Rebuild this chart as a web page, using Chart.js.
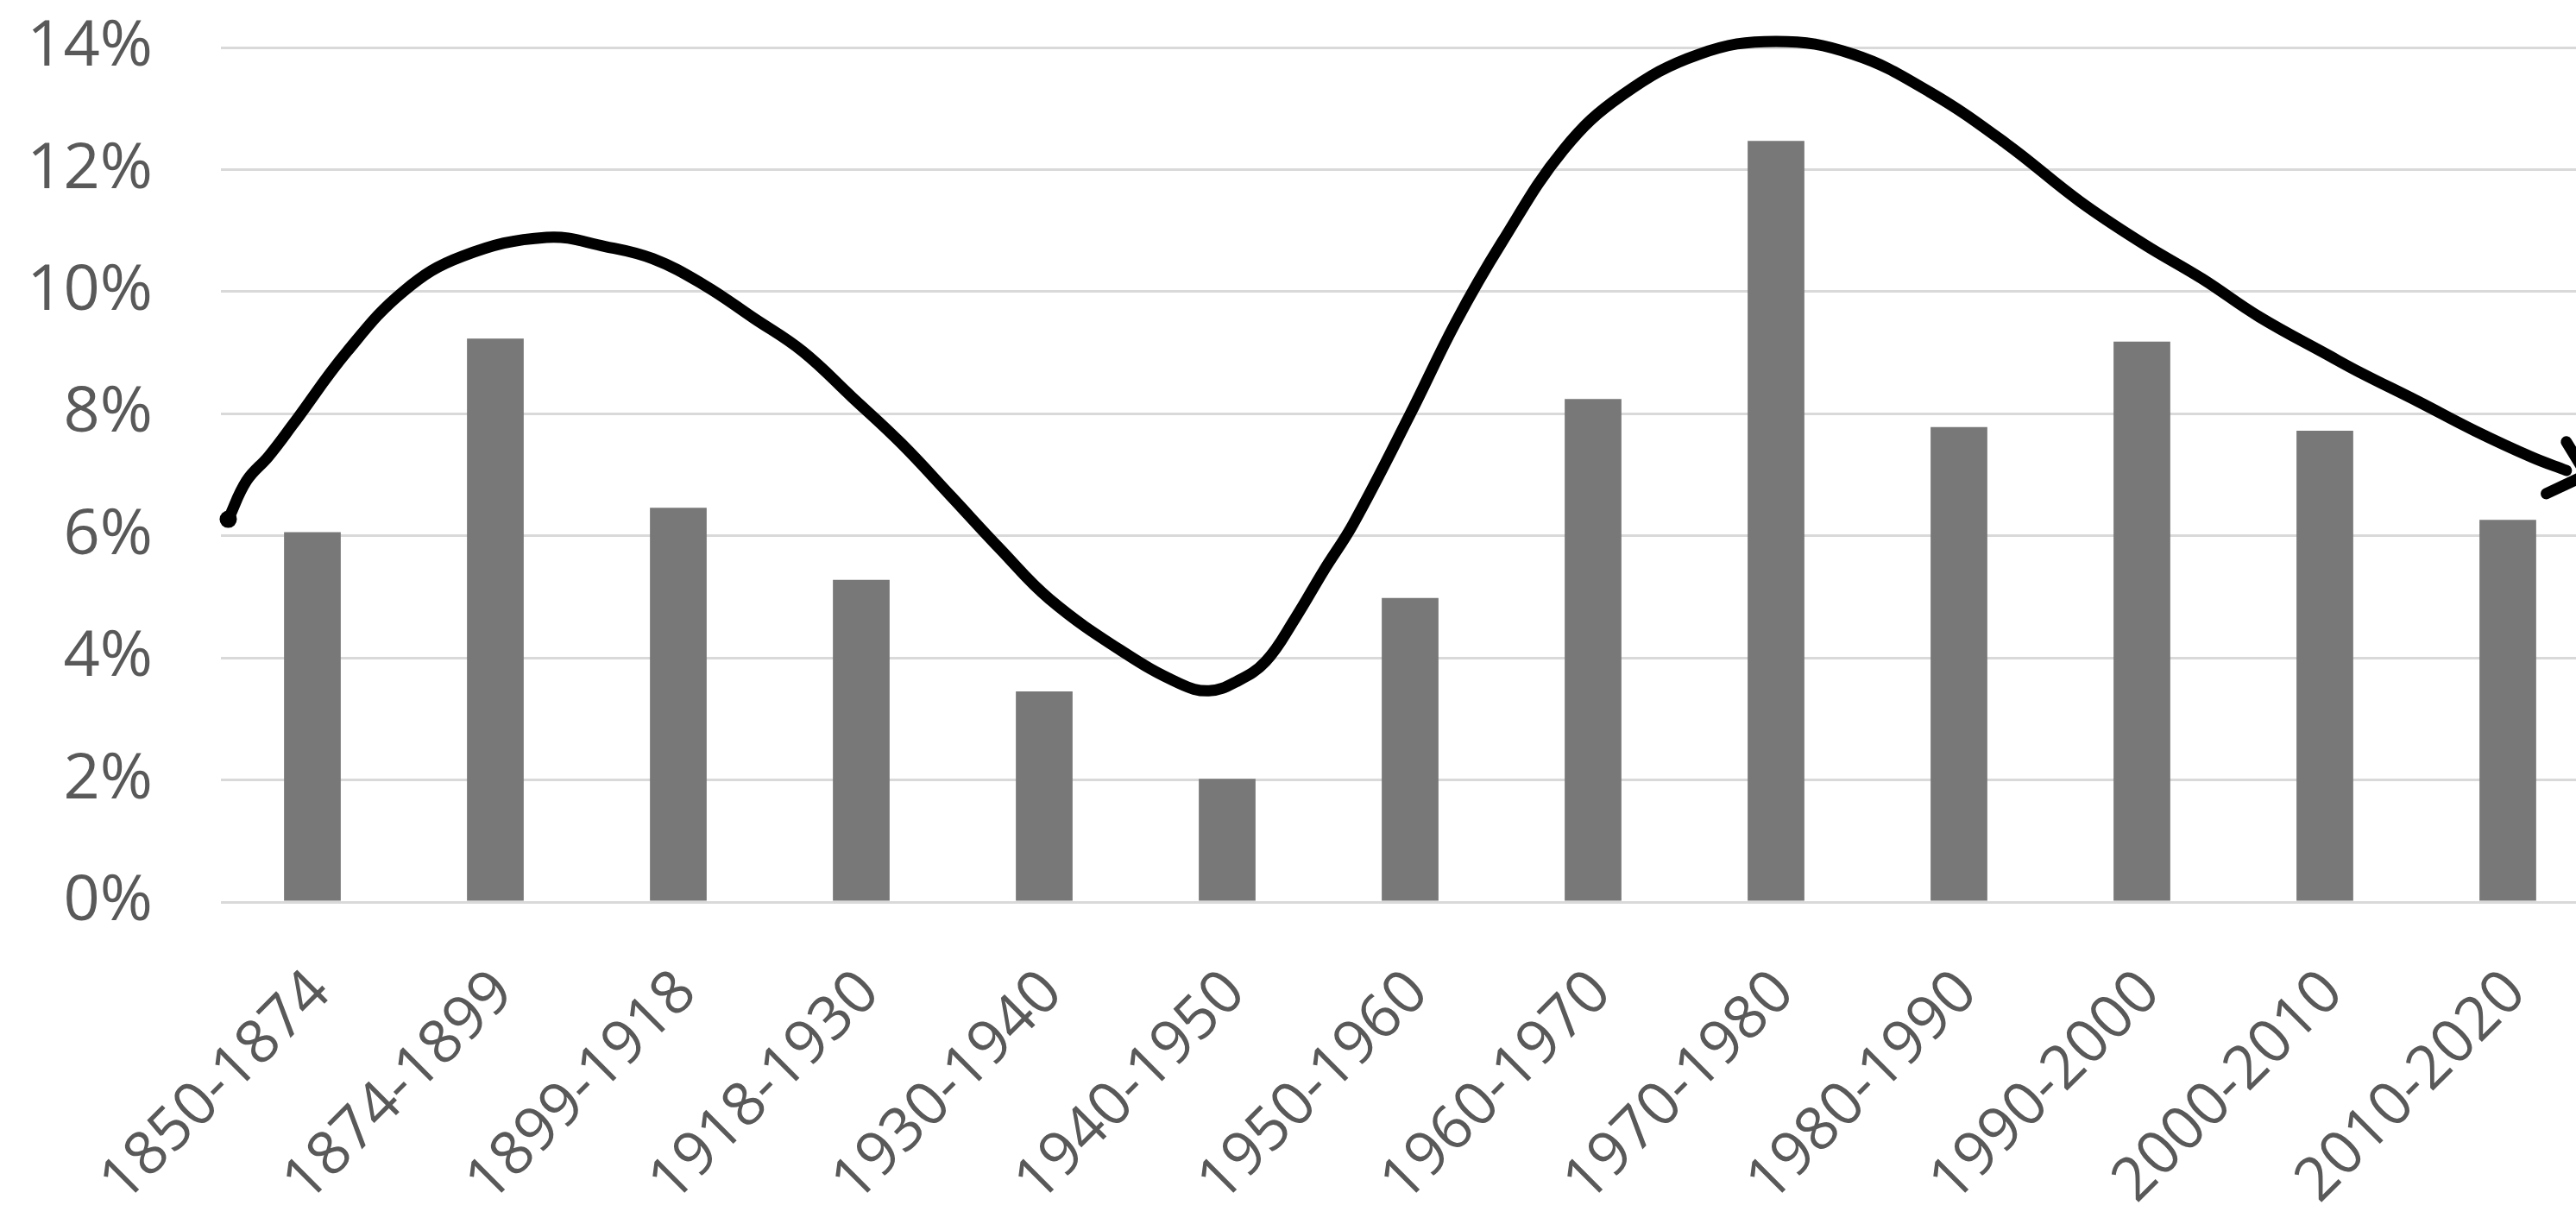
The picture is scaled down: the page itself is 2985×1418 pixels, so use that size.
<!DOCTYPE html>
<html>
<head>
<meta charset="utf-8">
<script src="https://cdn.jsdelivr.net/npm/chart.js@4"></script>
<style>
  html, body { margin: 0; padding: 0; background: #fff; overflow: hidden; }
  #wrap { width: 3022px; height: 1418px; position: relative; }
</style>
</head>
<body>
<div id="wrap"><canvas id="periodChart"></canvas></div>
<script>
const periods = ['1850-1874', '1874-1899', '1899-1918', '1918-1930', '1930-1940', '1940-1950', '1950-1960',
  '1960-1970', '1970-1980', '1980-1990', '1990-2000', '2000-2010', '2010-2020'];
const shares = [6.06, 9.23, 6.46, 5.28, 3.45, 2.02, 4.98, 8.24, 12.47, 7.78, 9.18, 7.72, 6.26];

// hand drawn trend line, x in category index units
const trendX = [-0.46, -0.36, -0.24, -0.11, 0.19, 0.50, 0.82, 1.28, 1.60, 1.86, 2.14, 2.41, 2.68, 2.95, 3.22, 3.49,
  3.76, 4.03, 4.43, 4.74, 4.90, 5.05, 5.21, 5.37, 5.53, 5.69, 6.00, 6.25, 6.50, 6.84, 7.16, 7.58, 8.00, 8.42,
  8.84, 9.26, 9.66, 10.01, 10.33, 10.64, 11.03, 11.19, 11.51, 11.82, 12.13, 12.32];
const trendY = [6.27, 6.90, 7.30, 7.81, 9.02, 10.01, 10.58, 10.89, 10.74, 10.54, 10.11, 9.57, 9.02, 8.27, 7.51, 6.65,
  5.78, 4.96, 4.10, 3.58, 3.46, 3.61, 3.94, 4.64, 5.44, 6.20, 7.99, 9.50, 10.80, 12.33, 13.22, 13.89, 14.10, 13.89,
  13.27, 12.42, 11.48, 10.78, 10.21, 9.59, 8.94, 8.68, 8.20, 7.72, 7.29, 7.07];
const arrowX = [12.21, 12.43, 12.32];
const arrowY = [6.69, 7.00, 7.54];

const txt = '#595959';
const fontFam = '"Open Sans", "Liberation Sans", sans-serif';

const ctx = document.getElementById('periodChart');
new Chart(ctx, {
  data: {
    labels: periods,
    datasets: [{
      type: 'line',
      xAxisID: 'x2',
      data: trendX.map((x, i) => ({ x: x, y: trendY[i] })),
      borderColor: '#000',
      borderWidth: 13,
      borderCapStyle: 'round',
      borderJoinStyle: 'round',
      tension: 0.4,
      pointRadius: trendX.map((x, i) => i === 0 ? 10 : 0),
      pointBackgroundColor: '#000',
      pointBorderWidth: 0,
      clip: false,
      order: 0
    }, {
      type: 'line',
      xAxisID: 'x2',
      data: arrowX.map((x, i) => ({ x: x, y: arrowY[i] })),
      borderColor: '#000',
      borderWidth: 13,
      borderCapStyle: 'round',
      borderJoinStyle: 'round',
      tension: 0,
      pointRadius: 0,
      clip: false,
      order: 0
    }, {
      type: 'bar',
      xAxisID: 'x',
      data: shares,
      backgroundColor: '#787878',
      grouped: false,
      categoryPercentage: 1,
      barPercentage: 0.31,
      order: 1
    }]
  },
  options: {
    responsive: true,
    maintainAspectRatio: false,
    animation: false,
    layout: { padding: { top: 55, right: 0, left: 0, bottom: 0 } },
    plugins: { legend: { display: false }, tooltip: { enabled: false } },
    scales: {
      x: {
        type: 'category',
        offset: true,
        grid: { display: false, drawTicks: false },
        border: { display: false },
        ticks: {
          color: txt,
          font: { family: fontFam, size: 70 },
          maxRotation: 45,
          minRotation: 45,
          padding: 64,
          labelOffset: 10,
          autoSkip: false
        },
        afterFit(scale) {
          scale.height = 373;
          scale.paddingLeft = 0;
          scale.paddingRight = 0;
        }
      },
      x2: {
        type: 'linear',
        display: false,
        min: -0.5,
        max: 12.5
      },
      y: {
        min: 0,
        max: 14,
        ticks: {
          stepSize: 2,
          color: txt,
          font: { family: fontFam, size: 74 },
          padding: 79,
          callback: v => v + '%'
        },
        grid: { color: '#d9d9d9', lineWidth: 3, drawTicks: false },
        border: { display: false },
        afterFit(scale) {
          scale.width = 256;
          scale.paddingTop = 0;
          scale.paddingBottom = 0;
        }
      }
    }
  }
});
</script>
</body>
</html>
